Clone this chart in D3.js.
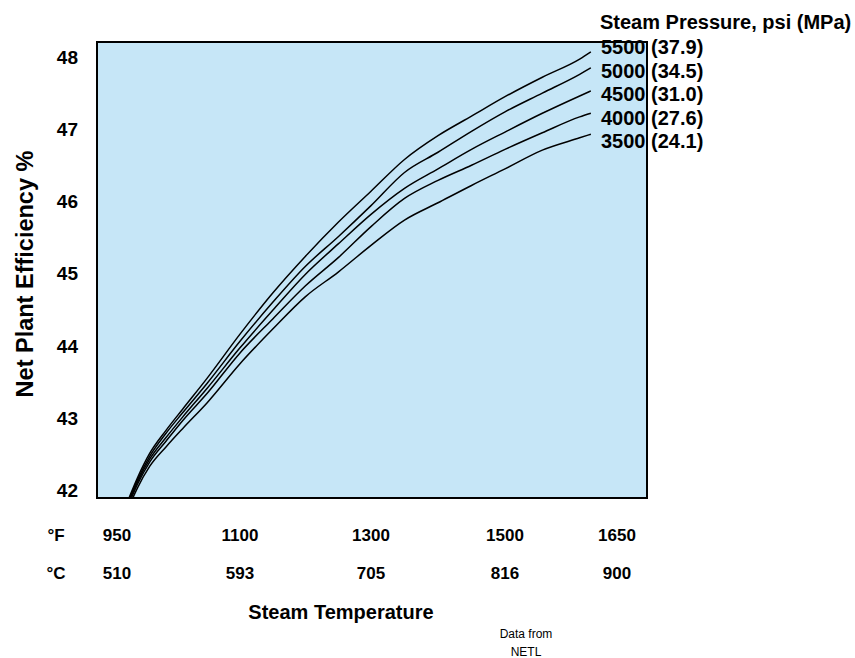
<!DOCTYPE html>
<html><head><meta charset="utf-8">
<script src="https://cdn.jsdelivr.net/npm/d3@7"></script>
<style>
body{margin:0;background:#fff}
svg{display:block}
text{font-family:"Liberation Sans",Arial,Helvetica,sans-serif;font-weight:bold;fill:#000}
</style>
</head><body>
<svg id="chart" width="855" height="658"></svg>
<script>
// ---- data ----
const tempF = [965, 975, 990, 1010, 1030, 1060, 1100, 1150, 1200, 1250, 1300, 1350, 1400, 1450, 1500, 1550, 1600, 1615];
const eff5500 = [41.90, 42.17, 42.51, 42.83, 43.12, 43.55, 44.16, 44.73, 45.24, 45.71, 46.14, 46.58, 46.91, 47.18, 47.45, 47.72, 47.97, 48.07];
const eff5000 = [41.87, 42.14, 42.47, 42.79, 43.07, 43.48, 44.06, 44.60, 45.10, 45.51, 45.94, 46.40, 46.68, 46.97, 47.24, 47.50, 47.76, 47.85];
const eff4500 = [41.85, 42.11, 42.43, 42.73, 43.01, 43.41, 43.97, 44.49, 44.99, 45.41, 45.82, 46.18, 46.45, 46.72, 46.96, 47.22, 47.46, 47.53];
const eff4000 = [41.82, 42.08, 42.39, 42.68, 42.96, 43.34, 43.90, 44.37, 44.83, 45.22, 45.65, 46.04, 46.29, 46.50, 46.72, 46.95, 47.17, 47.22];
const eff3500 = [41.78, 42.03, 42.33, 42.60, 42.85, 43.21, 43.75, 44.23, 44.68, 45.02, 45.39, 45.74, 45.98, 46.22, 46.45, 46.71, 46.88, 46.93];
const pressureLabels = ["5500 (37.9)", "5000 (34.5)", "4500 (31.0)", "4000 (27.6)", "3500 (24.1)"];
const yTicks = [42, 43, 44, 45, 46, 47, 48];
const tickF = ["950", "1100", "1300", "1500", "1650"];
const tickC = ["510", "593", "705", "816", "900"];
const tickFval = [950, 1100, 1300, 1500, 1650];

const series = [eff5500, eff5000, eff4500, eff4000, eff3500];

// ---- layout ----
const svg = d3.select("#chart");
const box = {x0: 97, x1: 647, y0: 42, y1: 498};

const x = d3.scaleLinear().domain(tickFval).range([117, 240, 371, 505, 617]);
const y = d3.scaleLinear().domain([42, 48]).range([490, 57]);
const legendY = d3.scalePoint().domain(pressureLabels).range([54, 148]);

svg.append("defs").append("clipPath").attr("id", "clip")
  .append("rect").attr("x", box.x0).attr("y", box.y0)
  .attr("width", box.x1 - box.x0).attr("height", box.y1 - box.y0);

svg.append("rect").attr("x", box.x0).attr("y", box.y0)
  .attr("width", box.x1 - box.x0).attr("height", box.y1 - box.y0)
  .attr("fill", "#c6e6f7");

const line = d3.line().x((d, i) => x(tempF[i])).y(d => y(d)).curve(d3.curveMonotoneX);

svg.append("g").attr("clip-path", "url(#clip)")
  .selectAll("path").data(series).join("path")
  .attr("d", line).attr("fill", "none").attr("stroke", "#000").attr("stroke-width", 1.5);

svg.append("rect").attr("x", box.x0).attr("y", box.y0)
  .attr("width", box.x1 - box.x0).attr("height", box.y1 - box.y0)
  .attr("fill", "none").attr("stroke", "#000").attr("stroke-width", 2);

// y tick labels
svg.append("g").selectAll("text").data(yTicks).join("text")
  .attr("x", 78).attr("y", d => y(d)).attr("dy", "0.36em")
  .attr("text-anchor", "end").style("font-size", "19px").text(d => d);

// x tick labels
const xl = svg.append("g");
xl.append("text").attr("x", 56).attr("y", 541).attr("text-anchor", "middle").style("font-size", "17px").text("°F");
xl.append("text").attr("x", 56).attr("y", 579).attr("text-anchor", "middle").style("font-size", "17px").text("°C");
xl.selectAll(".tf").data(tickF).join("text").attr("class", "tf")
  .attr("x", (d, i) => x(tickFval[i])).attr("y", 541).attr("text-anchor", "middle")
  .style("font-size", "17px").text(d => d);
xl.selectAll(".tc").data(tickC).join("text").attr("class", "tc")
  .attr("x", (d, i) => x(tickFval[i])).attr("y", 579).attr("text-anchor", "middle")
  .style("font-size", "17px").text(d => d);

// axis titles
svg.append("text").attr("x", 341).attr("y", 619).attr("text-anchor", "middle")
  .style("font-size", "20px").text("Steam Temperature");
svg.append("text").attr("transform", "translate(33,274) rotate(-90)").attr("text-anchor", "middle")
  .style("font-size", "23.5px").text("Net Plant Efficiency %");

// legend
svg.append("text").attr("x", 600).attr("y", 29).style("font-size", "20px").text("Steam Pressure, psi (MPa)");
svg.append("g").selectAll("text").data(pressureLabels).join("text")
  .attr("x", 601).attr("y", d => legendY(d))
  .style("font-size", "20px").text(d => d);

// source
svg.append("text").attr("x", 526).attr("y", 638).attr("text-anchor", "middle")
  .style("font-size", "12px").style("font-weight", "normal").text("Data from");
svg.append("text").attr("x", 526).attr("y", 656).attr("text-anchor", "middle")
  .style("font-size", "12px").style("font-weight", "normal").text("NETL");
</script>
</body></html>
